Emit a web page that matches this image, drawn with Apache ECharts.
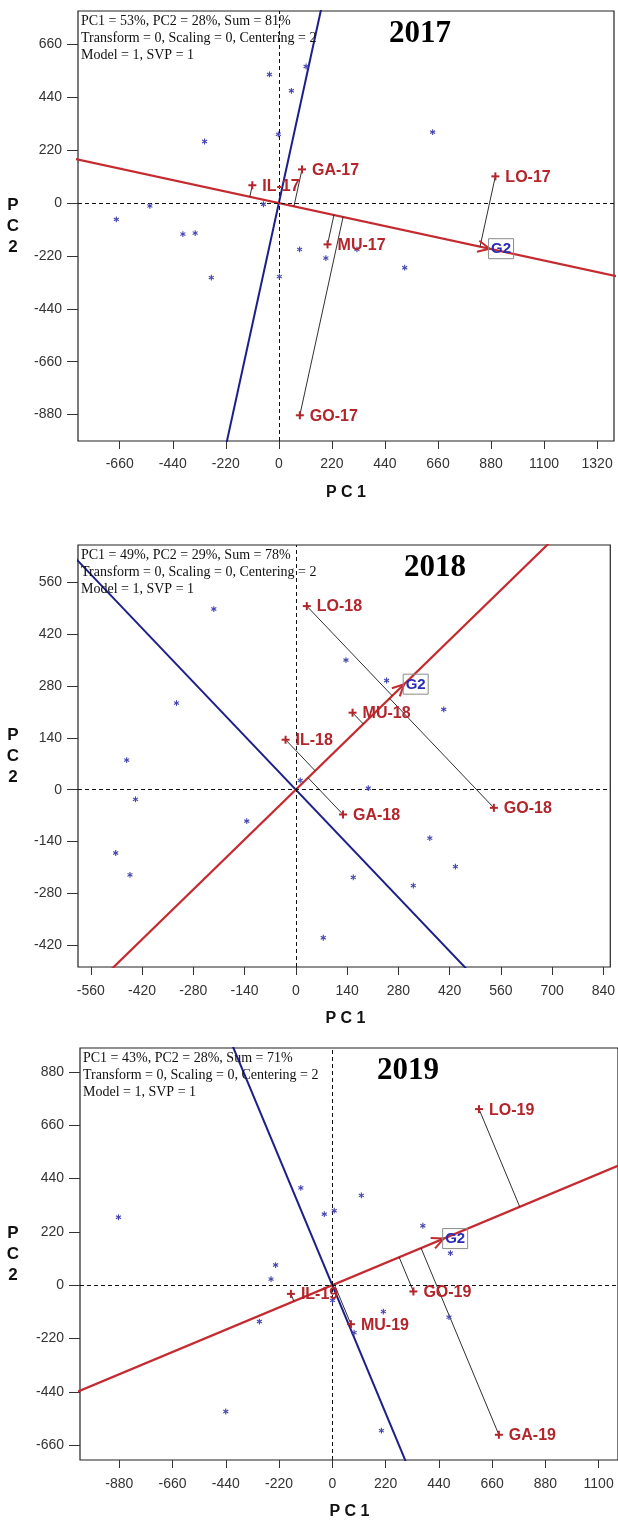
<!DOCTYPE html>
<html>
<head>
<meta charset="utf-8">
<script src="https://cdn.jsdelivr.net/npm/echarts@6/dist/echarts.min.js"></script>
<style>
  html, body { margin: 0; padding: 0; background: #fff; }
  #chart { width: 618px; height: 1522px; }
</style>
</head>
<body>
<div id="chart"></div>
<script>
// ---- GGE biplot data: "examine a genotype" view of G2, one panel per season ----

// 2017
const env2017Names = ['GA-17', 'IL-17', 'LO-17', 'MU-17', 'GO-17'];
const env2017PC1 = [96, -110, 898, 202, 87];
const env2017PC2 = [140, 74, 111, -172, -883];
const geno2017PC1 = [-39, 52, 113, -2, -308, 638, -535, -674, -398, -347, -64, 86, 195, 324, 522, -280, 2];
const geno2017PC2 = [535, 467, 568, 286, 256, 295, -12, -68, -129, -125, -5, -193, -229, -193, -269, -310, -306];
const g2_2017 = [874, -190];
const x2017Ticks = [-660, -440, -220, 0, 220, 440, 660, 880, 1100, 1320];
const y2017Ticks = [-880, -660, -440, -220, 0, 220, 440, 660];
const info2017 = ['PC1 = 53%, PC2 = 28%, Sum = 81%', 'Transform = 0, Scaling = 0, Centering = 2', 'Model = 1, SVP = 1'];

// 2018
const env2018Names = ['LO-18', 'MU-18', 'IL-18', 'GA-18', 'GO-18'];
const env2018PC1 = [30, 155, -28, 129, 541];
const env2018PC2 = [496, 208, 135, -67, -49];
const geno2018PC1 = [-224, 137, 248, 404, -326, -462, -438, 12, 198, -134, -492, -453, 366, 436, 157, 321, 75];
const geno2018PC2 = [488, 350, 295, 217, 234, 80, -26, 25, 4, -85, -171, -230, -131, -208, -237, -259, -400];
const g2_2018 = [296, 285];
const x2018Ticks = [-560, -420, -280, -140, 0, 140, 280, 420, 560, 700, 840];
const y2018Ticks = [-420, -280, -140, 0, 140, 280, 420, 560];
const info2018 = ['PC1 = 49%, PC2 = 29%, Sum = 78%', 'Transform = 0, Scaling = 0, Centering = 2', 'Model = 1, SVP = 1'];

// 2019
const env2019Names = ['LO-19', 'GO-19', 'IL-19', 'MU-19', 'GA-19'];
const env2019PC1 = [606, 335, -171, 77, 688];
const env2019PC2 = [726, -26, -36, -161, -617];
const geno2019PC1 = [-883, -130, 120, -33, 8, 374, 488, -234, -253, 1, -301, 211, 482, 90, -440, 203];
const geno2019PC2 = [280, 401, 370, 293, 307, 245, 132, 83, 25, -63, -150, -109, -132, -196, -521, -600];
const g2_2019 = [460, 192];
const x2019Ticks = [-880, -660, -440, -220, 0, 220, 440, 660, 880, 1100];
const y2019Ticks = [-660, -440, -220, 0, 220, 440, 660, 880];
const info2019 = ['PC1 = 43%, PC2 = 28%, Sum = 71%', 'Transform = 0, Scaling = 0, Centering = 2', 'Model = 1, SVP = 1'];

// ---- styling ----
const ENV_RED = '#b3252b';
const AXIS_RED = '#c42a2f';
const AXIS_BLUE = '#1e1e8a';
const STAR_BLUE = '#4444b0';
const G2_BLUE = '#2b2bb4';
const SANS = '"Liberation Sans", Arial, sans-serif';
const SERIF = '"Liberation Serif", "Times New Roman", serif';

const panels = [
  { year: '2017', names: env2017Names, ex: env2017PC1, ey: env2017PC2, gx: geno2017PC1, gy: geno2017PC2,
    g2: g2_2017, xTicks: x2017Ticks, yTicks: y2017Ticks, info: info2017,
    box: { left: 78, top: 11, width: 536, height: 430 }, xRange: [-833, 1390], yRange: [-990, 799],
    titleX: 420, xLabelMargin: 16 },
  { year: '2018', names: env2018Names, ex: env2018PC1, ey: env2018PC2, gx: geno2018PC1, gy: geno2018PC2,
    g2: g2_2018, xTicks: x2018Ticks, yTicks: y2018Ticks, info: info2018,
    box: { left: 78, top: 545, width: 535, height: 422 }, xRange: [-595, 859], yRange: [-479, 661],
    titleX: 435, xLabelMargin: 17 },
  { year: '2019', names: env2019Names, ex: env2019PC1, ey: env2019PC2, gx: geno2019PC1, gy: geno2019PC2,
    g2: g2_2019, xTicks: x2019Ticks, yTicks: y2019Ticks, info: info2019,
    box: { left: 80, top: 1048, width: 539, height: 412 }, xRange: [-1042, 1180], yRange: [-721, 978],
    titleX: 408, xLabelMargin: 17 }
];

// foot of the perpendicular from an environment onto the genotype axis
function foot(px, py, g) {
  const t = (px * g[0] + py * g[1]) / (g[0] * g[0] + g[1] * g[1]);
  return [t * g[0], t * g[1]];
}

const plainNumber = (v) => String(v);

const grids = [], xAxes = [], yAxes = [], series = [], graphics = [];

panels.forEach((p, i) => {
  grids.push({
    left: p.box.left, top: p.box.top, width: p.box.width, height: p.box.height,
    show: true, borderColor: '#222', borderWidth: 1.2, backgroundColor: 'transparent'
  });

  xAxes.push({
    gridIndex: i, type: 'value', min: p.xRange[0], max: p.xRange[1], position: 'bottom',
    axisLine: { show: false, onZero: false },
    axisTick: { show: true, length: 8, customValues: p.xTicks, lineStyle: { color: '#333', width: 1 } },
    axisLabel: { customValues: p.xTicks, formatter: plainNumber, margin: p.xLabelMargin,
                 fontSize: 14, fontFamily: SANS, color: '#333' },
    splitLine: { show: false }
  });
  yAxes.push({
    gridIndex: i, type: 'value', min: p.yRange[0], max: p.yRange[1], position: 'left',
    axisLine: { show: false, onZero: false },
    axisTick: { show: true, length: 11, customValues: p.yTicks, lineStyle: { color: '#333', width: 1 } },
    axisLabel: { customValues: p.yTicks, formatter: plainNumber, margin: 16,
                 fontSize: 14, fontFamily: SANS, color: '#333' },
    splitLine: { show: false }
  });

  const g = p.g2;
  const far = 8;

  // perpendicular (blue) line through the origin, with dashed zero reference lines
  series.push({
    type: 'line', xAxisIndex: i, yAxisIndex: i, silent: true, z: 2,
    data: [[far * g[1], -far * g[0]], [-far * g[1], far * g[0]]],
    symbol: 'none', clip: true,
    lineStyle: { color: AXIS_BLUE, width: 2 },
    markLine: {
      silent: true, symbol: 'none', label: { show: false }, animation: false,
      lineStyle: { color: '#111', width: 1, type: [4, 3] },
      data: [{ xAxis: 0 }, { yAxis: 0 }]
    }
  });

  // genotype (red) axis through the origin and G2
  series.push({
    type: 'line', xAxisIndex: i, yAxisIndex: i, silent: true, z: 3,
    data: [[-far * g[0], -far * g[1]], [far * g[0], far * g[1]]],
    symbol: 'none', clip: true,
    lineStyle: { color: AXIS_RED, width: 2.2 }
  });

  // projections of environments onto the genotype axis
  series.push({
    type: 'custom', xAxisIndex: i, yAxisIndex: i, silent: true, z: 4, clip: true,
    data: p.ex.map((x, k) => { const f = foot(x, p.ey[k], g); return [x, p.ey[k], f[0], f[1]]; }),
    renderItem: (params, api) => {
      const a = api.coord([api.value(0), api.value(1)]);
      const b = api.coord([api.value(2), api.value(3)]);
      return { type: 'line', shape: { x1: a[0], y1: a[1], x2: b[0], y2: b[1] },
               style: { stroke: '#1a1a1a', lineWidth: 0.9 } };
    }
  });

  // genotypes as small asterisks
  series.push({
    type: 'custom', xAxisIndex: i, yAxisIndex: i, silent: true, z: 5, clip: true,
    data: p.gx.map((x, k) => [x, p.gy[k]]),
    renderItem: (params, api) => {
      const c = api.coord([api.value(0), api.value(1)]);
      const r = 2.9, s = { stroke: STAR_BLUE, lineWidth: 1.1 };
      const kids = [];
      for (let a = 0; a < 3; a++) {
        const ang = Math.PI / 2 + a * Math.PI / 3;
        const dx = r * Math.cos(ang), dy = r * Math.sin(ang);
        kids.push({ type: 'line', shape: { x1: c[0] - dx, y1: c[1] - dy, x2: c[0] + dx, y2: c[1] + dy }, style: s });
      }
      return { type: 'group', children: kids };
    }
  });

  // environments: "+" marker with name
  series.push({
    type: 'custom', xAxisIndex: i, yAxisIndex: i, silent: true, z: 6, clip: false,
    data: p.ex.map((x, k) => [x, p.ey[k]]),
    renderItem: (params, api) => {
      const c = api.coord([api.value(0), api.value(1)]);
      const s = { stroke: ENV_RED, lineWidth: 2 };
      return { type: 'group', children: [
        { type: 'line', shape: { x1: c[0] - 4, y1: c[1], x2: c[0] + 4, y2: c[1] }, style: s },
        { type: 'line', shape: { x1: c[0], y1: c[1] - 4, x2: c[0], y2: c[1] + 4 }, style: s },
        { type: 'text', x: c[0] + 10, y: c[1] + 1,
          style: { text: p.names[params.dataIndex], fill: ENV_RED, font: 'bold 16px ' + SANS,
                   align: 'left', verticalAlign: 'middle' } }
      ] };
    }
  });

  // G2 vector arrowhead and boxed label
  series.push({
    type: 'custom', xAxisIndex: i, yAxisIndex: i, silent: true, z: 7, clip: false,
    data: [[g[0], g[1]]],
    renderItem: (params, api) => {
      const tip = api.coord([api.value(0), api.value(1)]);
      const o = api.coord([0, 0]);
      const len = Math.hypot(tip[0] - o[0], tip[1] - o[1]);
      const ux = (tip[0] - o[0]) / len, uy = (tip[1] - o[1]) / len;
      const L = 13, A = 0.45;
      const barb = (sgn) => {
        const ca = Math.cos(sgn * A), sa = Math.sin(sgn * A);
        const bx = -(ux * ca - uy * sa), by = -(ux * sa + uy * ca);
        return { type: 'line', shape: { x1: tip[0], y1: tip[1], x2: tip[0] + L * bx, y2: tip[1] + L * by },
                 style: { stroke: AXIS_RED, lineWidth: 2 } };
      };
      return { type: 'group', children: [
        barb(1), barb(-1),
        { type: 'rect', shape: { x: tip[0] - 1, y: tip[1] - 10, width: 25, height: 20 },
          style: { fill: 'none', stroke: '#8a8a8a', lineWidth: 1 } },
        { type: 'text', x: tip[0] + 11.5, y: tip[1] + 0.5,
          style: { text: 'G2', fill: G2_BLUE, font: 'bold 15px ' + SANS, align: 'center', verticalAlign: 'middle' } }
      ] };
    }
  });

  // panel texts
  const b = p.box;
  graphics.push({
    type: 'text', x: b.left + 3, y: b.top + 2, z: 10,
    style: { text: p.info.join('\n'), font: '14px ' + SERIF, fill: '#111', lineHeight: 17,
             align: 'left', verticalAlign: 'top' }
  });
  graphics.push({
    type: 'text', x: p.titleX, y: b.top + 23, z: 10,
    style: { text: p.year, font: 'bold 31px ' + SERIF, fill: '#000', align: 'center', verticalAlign: 'middle' }
  });
  graphics.push({
    type: 'text', x: 13, y: b.top + b.height / 2, z: 10,
    style: { text: 'P\nC\n2', font: 'bold 17px ' + SANS, fill: '#111', lineHeight: 21,
             align: 'center', verticalAlign: 'middle' }
  });
  graphics.push({
    type: 'text', x: b.left + b.width / 2, y: b.top + b.height + 52, z: 10,
    style: { text: 'P C 1', font: 'bold 16px ' + SANS, fill: '#111', align: 'center', verticalAlign: 'middle' }
  });
});

const chart = echarts.init(document.getElementById('chart'), null, { renderer: 'canvas' });
chart.setOption({
  animation: false,
  backgroundColor: '#fff',
  grid: grids,
  xAxis: xAxes,
  yAxis: yAxes,
  series: series,
  graphic: { elements: graphics }
});
</script>
</body>
</html>
